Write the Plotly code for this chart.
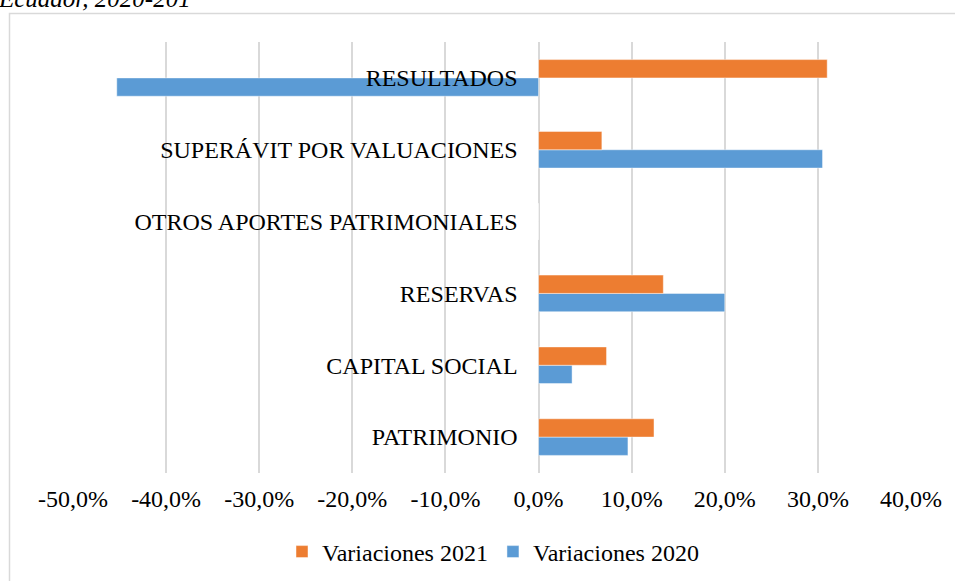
import plotly.graph_objects as go

categories = ["PATRIMONIO", "CAPITAL SOCIAL", "RESERVAS",
              "OTROS APORTES PATRIMONIALES", "SUPERÁVIT POR VALUACIONES", "RESULTADOS"]
var_2020 = [0.096, 0.036, 0.200, 0.0, 0.305, -0.453]
var_2021 = [0.124, 0.073, 0.134, 0.0, 0.068, 0.310]
tick_vals = [-0.5, -0.4, -0.3, -0.2, -0.1, 0.0, 0.1, 0.2, 0.3, 0.4]
tick_text = ["-50,0%", "-40,0%", "-30,0%", "-20,0%", "-10,0%",
             "0,0%", "10,0%", "20,0%", "30,0%", "40,0%"]
caption = "Ecuador, 2020-201"

FONT = "'Liberation Serif', 'Times New Roman', serif"
FS = 24
W, H = 955, 581
L, R, T, B = 73, 44, 42, 108
pw, ph = W - L - R, H - T - B

def px_x(p):
    return (p - L) / pw

def px_y(p):
    return (H - B - p) / ph

fig = go.Figure()
fig.add_trace(go.Bar(
    y=categories, x=var_2020, orientation="h", name="Variaciones 2020",
    marker=dict(color="#5B9BD5", line=dict(color="rgba(255,255,255,0.45)", width=1)),
    hoverinfo="skip",
))
fig.add_trace(go.Bar(
    y=categories, x=var_2021, orientation="h", name="Variaciones 2021",
    marker=dict(color="#ED7D31", line=dict(color="rgba(255,255,255,0.45)", width=1)),
    hoverinfo="skip",
))

fig.update_layout(
    width=W, height=H,
    margin=dict(l=L, r=R, t=T, b=B, autoexpand=False),
    paper_bgcolor="white", plot_bgcolor="white",
    barmode="group", bargap=0.49, bargroupgap=0,
    font=dict(family=FONT, size=FS, color="#000000"),
    showlegend=True,
    legend=dict(orientation="h", traceorder="reversed",
                x=px_x(493), xanchor="center", y=px_y(552), yanchor="middle",
                font=dict(family=FONT, size=FS, color="#000000"),
                itemclick=False),
    xaxis=dict(range=[-0.5, 0.4], tickvals=tick_vals, ticktext=tick_text,
               showgrid=True, gridcolor="#D9D9D9", gridwidth=1.5,
               zeroline=False, showline=False, ticks="",
               ticklabelstandoff=9,
               tickfont=dict(family=FONT, size=FS, color="#000000")),
    yaxis=dict(categoryorder="array", categoryarray=categories,
               anchor="free", position=0.5/0.9,
               showgrid=False, zeroline=False, showline=False, ticks="",
               ticklabelstandoff=21,
               tickfont=dict(family=FONT, size=FS, color="#000000")),
    shapes=[dict(type="rect", xref="paper", yref="paper",
                 x0=px_x(9.5), x1=px_x(1000), y0=px_y(700), y1=px_y(13.5),
                 line=dict(color="#D9D9D9", width=1.5), layer="below")],
    annotations=[dict(text=caption, xref="paper", yref="paper",
                      x=px_x(193), xanchor="right", y=px_y(14), yanchor="bottom",
                      showarrow=False,
                      font=dict(family=FONT, size=25, color="#000000", style="italic"))],
)

fig.write_html("out.html", config={"displayModeBar": False},
               post_script="document.body.style.margin='0';")
